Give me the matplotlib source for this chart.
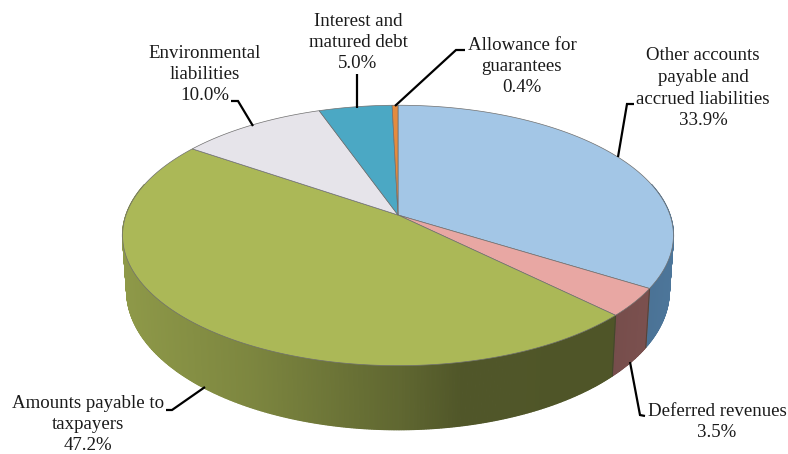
import matplotlib
matplotlib.use('Agg')
import matplotlib.pyplot as plt
import numpy as np

# slices, clockwise from twelve o'clock
categories = ['Other accounts\npayable and\naccrued liabilities', 'Deferred revenues',
              'Amounts payable to\ntaxpayers', 'Environmental\nliabilities',
              'Interest and\nmatured debt', 'Allowance for\nguarantees']
shares = [33.9, 3.5, 47.2, 10.0, 5.0, 0.4]

top_colors = ['#A3C6E6', '#E8A7A3', '#ABB857', '#E6E4EA', '#4BA8C4', '#E58B3E']
# the side walls are a bit more saturated than plain shading gives
side_tints = [(0.95, 1.2, 1.35), (1.1, 1.0, 1.0), (1, 1, 1), (1, 1, 1), (1, 1, 1), (1, 1, 1)]

# label centre / first line y, then leader line points (pixels)
label_pos = [(703, 56), (717, 411), (88, 403), (205, 53), (358, 21), (522, 45)]
leaders = [
    [(634, 104), (627, 104), (618, 157)],
    [(645, 416), (640, 415), (630, 362)],
    [(166, 410), (172, 410), (205, 387)],
    [(231, 101), (238, 101), (253, 126)],
    [(357, 74), (357, 108)],
    [(465, 50), (456, 50), (395, 106)],
]

# pie geometry in pixels
CX, CY = 398, 215
RX, RY = 272, 127
PERSP = 0.157
DEPTH = 54
LINE_H = 21.5


def project(theta, r=1.0):
    # circle -> perspective ellipse, the pie centre sits above the ellipse centre
    w = 1 + PERSP * r * np.sin(theta)
    return CX + RX * r * np.cos(theta) / w, CY - RY * r * np.sin(theta) / w


def project_bottom(theta):
    x, y = project(theta)
    w = 1 + PERSP * np.sin(theta)
    return CX + 0.985 * (x - CX), y + DEPTH / w


def side_shade(x):
    return np.interp(x, [125, 250, 400, 460, 610, 680], [0.83, 0.73, 0.56, 0.47, 0.46, 0.5])


fig = plt.figure(figsize=(7.88, 4.54), dpi=100)
ax = fig.add_axes([0, 0, 1, 1])
ax.set_xlim(0, 788)
ax.set_ylim(454, 0)
ax.axis('off')

edges = np.cumsum([0] + shares) / 100.0
start_angles = np.pi / 2 - 2 * np.pi * edges[:-1]
end_angles = np.pi / 2 - 2 * np.pi * edges[1:]

# side wall, only the front of the disc, far strips first
strips = []
for i in range(len(shares)):
    n = max(2, int(shares[i] * 12))
    t = np.linspace(start_angles[i], end_angles[i], n + 1)
    for a, b in zip(t[:-1], t[1:]):
        if np.sin((a + b) / 2) < 0.25:
            strips.append((i, a, b))
strips.sort(key=lambda s: -np.sin((s[1] + s[2]) / 2))

for i, a, b in strips:
    xa, ya = project(a)
    xb, yb = project(b)
    xc, yc = project_bottom(b)
    xd, yd = project_bottom(a)
    shade = side_shade((xa + xb) / 2)
    rgb = np.array(matplotlib.colors.to_rgb(top_colors[i])) * shade * np.array(side_tints[i])
    rgb = np.clip(rgb, 0, 1)
    ax.fill([xa, xb, xc, xd], [ya, yb, yc, yd], facecolor=rgb, edgecolor=rgb,
            lw=0.9, zorder=2)

# dark seams between side faces at the front
for i in range(len(shares)):
    a = start_angles[i]
    if np.sin(a) < -0.1:
        xa, ya = project(a)
        xd, yd = project_bottom(a)
        ax.plot([xa, xd], [ya, yd], color='#3f3f30', lw=0.7, alpha=0.7, zorder=3)

# top face
for i in range(len(shares)):
    t = np.linspace(start_angles[i], end_angles[i], max(4, int(shares[i] * 8)))
    x, y = project(t)
    ax.fill(np.r_[CX, x], np.r_[CY, y], facecolor=top_colors[i],
            edgecolor='#6f6f6f', lw=0.5, zorder=4)

# labels and leader lines
for i in range(len(shares)):
    lines = categories[i].split('\n') + ['%.1f%%' % shares[i]]
    lx, ly = label_pos[i]
    for j, line in enumerate(lines):
        ax.text(lx, ly + j * LINE_H, line, ha='center', va='center',
                family='Liberation Serif', fontsize=13.6, color='#1a1a1a', zorder=6)
    pts = np.array(leaders[i])
    ax.plot(pts[:, 0], pts[:, 1], color='black', lw=1.6, zorder=5,
            solid_capstyle='butt', solid_joinstyle='miter')

fig.savefig('out.png', dpi=100, facecolor='white')
